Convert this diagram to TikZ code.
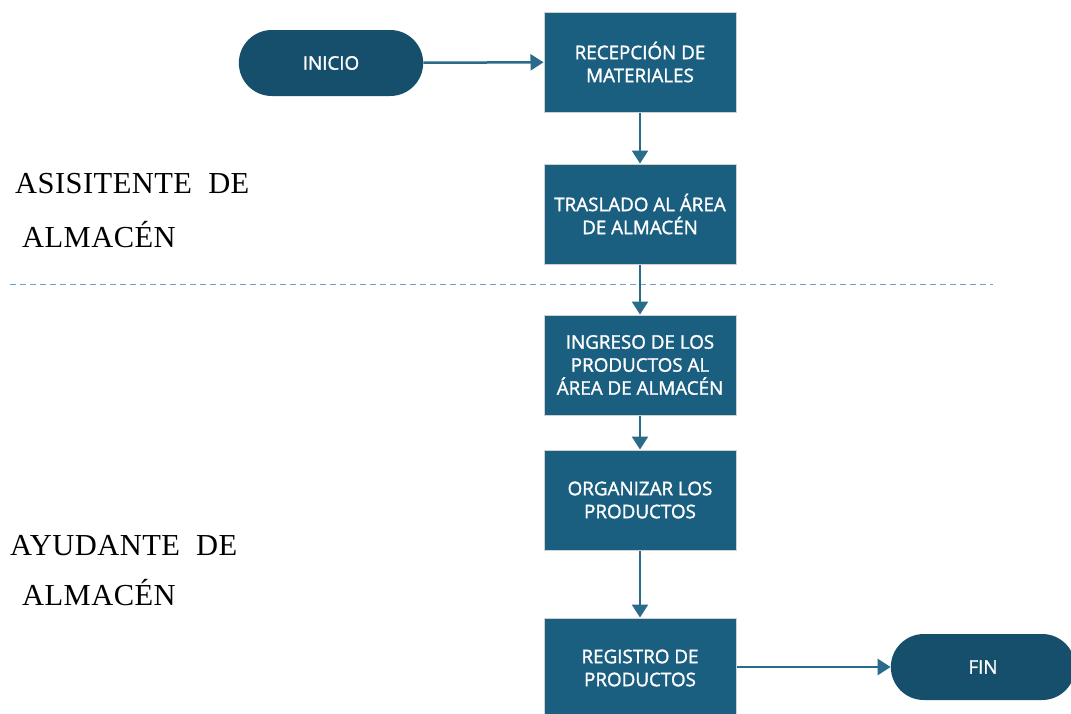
\documentclass[tikz,border=0pt]{standalone}
\usepackage{fontspec}
\setmainfont{Liberation Serif}
\newfontfamily\boxfont{Open Sans}[FakeBold=1.5]
\usetikzlibrary{arrows.meta,shapes.misc}
\definecolor{stepfill}{HTML}{1A5E80}
\definecolor{termfill}{HTML}{154F6B}
\definecolor{flowline}{HTML}{2A6A8A}
\definecolor{lanedash}{HTML}{6FA0D0}
\begin{document}
\begin{tikzpicture}[x=1pt,y=-1pt,
  stepbox/.style={draw=black!18,line width=1pt,fill=stepfill,minimum width=192pt,minimum height=100pt,
    text=white,align=center,font=\boxfont\fontsize{18.8}{23}\selectfont,inner sep=0pt},
  termbox/.style={rounded rectangle,fill=termfill,minimum width=191pt,minimum height=66pt,
    text=white,font=\boxfont\fontsize{18.8}{23}\selectfont},
  flow/.style={draw=flowline,line width=2.5pt,-{Triangle[length=13pt,width=16pt]}},
  lanelabel/.style={anchor=base west,inner sep=0pt,font=\addfontfeatures{LetterSpace=1.5}\fontsize{30.5}{32}\selectfont}]
\useasboundingbox (0,0) rectangle (1071,713);
\begin{scope}
\clip (0,0) rectangle (1071,713);
% lane separator
\draw[lanedash,line width=1pt,dash pattern=on 6pt off 4pt] (10,284) -- (993,284);
% process steps
\node[termbox] (inicio) at (331,63) {INICIO};
\node[stepbox] (recep) at (640,62) {RECEPCIÓN DE\\MATERIALES};
\node[stepbox] (trasl) at (640,214) {TRASLADO AL ÁREA\\DE ALMACÉN};
\node[stepbox] (ingreso) at (640,365) {INGRESO DE LOS\\PRODUCTOS AL\\ÁREA DE ALMACÉN};
\node[stepbox] (organ) at (640,500) {ORGANIZAR LOS\\PRODUCTOS};
\node[stepbox] (regis) at (640,668) {REGISTRO DE\\PRODUCTOS};
\node[termbox] (fin) at (983,667) {FIN};
% connectors
\draw[flow] (inicio) -- (recep);
\draw[flow] (recep) -- (trasl);
\draw[flow] (trasl) -- (ingreso);
\draw[flow] (ingreso) -- (organ);
\draw[flow] (organ) -- (regis);
\draw[flow] (regis.east |- fin) -- (fin);
\end{scope}
% lane names
\node[lanelabel] (l1a) at (15,193) {ASISITENTE\ \ DE};
\node[lanelabel] (l1b) at (22,247) {ALMACÉN};
\node[lanelabel] (l2a) at (10,555) {AYUDANTE\ \ DE};
\node[lanelabel] (l2b) at (22,605) {ALMACÉN};
\end{tikzpicture}
\end{document}
